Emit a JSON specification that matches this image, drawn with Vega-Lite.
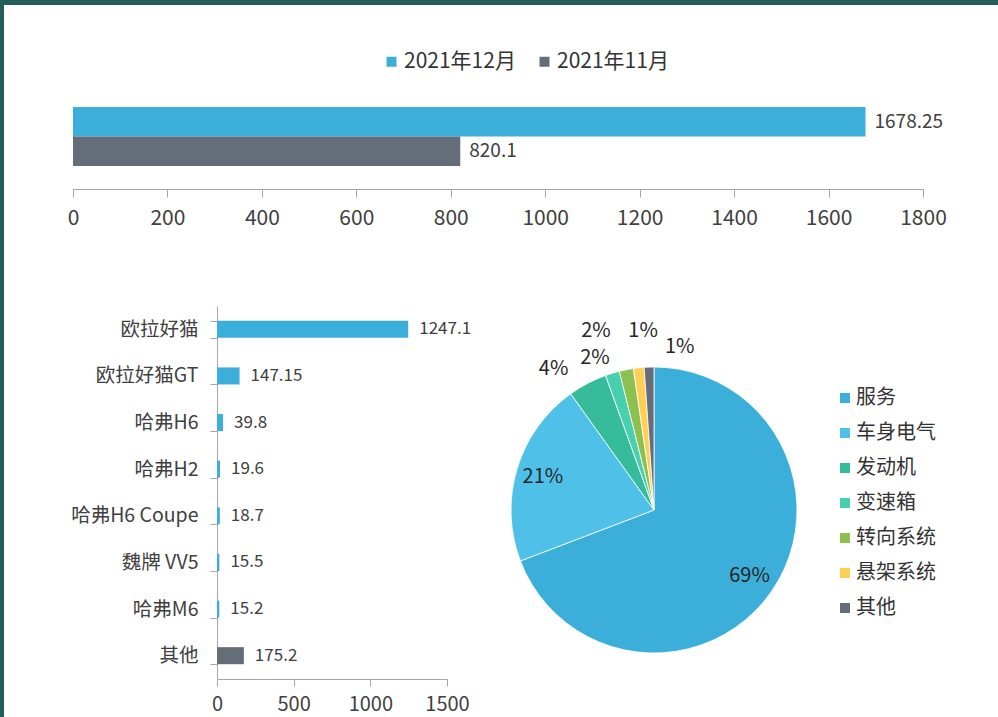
{
  "$schema": "https://vega.github.io/schema/vega-lite/v6.json",
  "padding": 0,
  "background": "white",
  "config": {
    "font": "Noto Sans CJK SC",
    "view": {"stroke": null},
    "axis": {"grid": false, "title": null, "labelFlush": false, "labelFont": "Noto Sans CJK SC", "labelColor": "#404040", "domainColor": "#a6a6a6", "tickColor": "#a6a6a6", "domainWidth": 1, "tickWidth": 1},
    "legend": {"labelFont": "Noto Sans CJK SC", "labelColor": "#333333", "padding": 0},
    "text": {"font": "Noto Sans CJK SC"}
  },
  "datasets": {
    "monthly": [
      {"month": "2021年12月", "value": 1678.25},
      {"month": "2021年11月", "value": 820.1}
    ],
    "models": [
      {"model": "欧拉好猫", "value": 1247.1},
      {"model": "欧拉好猫GT", "value": 147.15},
      {"model": "哈弗H6", "value": 39.8},
      {"model": "哈弗H2", "value": 19.6},
      {"model": "哈弗H6 Coupe", "value": 18.7},
      {"model": "魏牌 VV5", "value": 15.5},
      {"model": "哈弗M6", "value": 15.2},
      {"model": "其他", "value": 175.2}
    ],
    "parts": [
      {"part": "服务", "share": 0.692},
      {"part": "车身电气", "share": 0.209},
      {"part": "发动机", "share": 0.044},
      {"part": "变速箱", "share": 0.016},
      {"part": "转向系统", "share": 0.016},
      {"part": "悬架系统", "share": 0.012},
      {"part": "其他", "share": 0.011}
    ]
  },
  "spacing": 0,
  "resolve": {"scale": {"color": "independent"}, "legend": {"color": "independent"}},
  "hconcat": [
    {
      "width": 4, "height": 717,
      "data": {"values": []},
      "mark": "point",
      "encoding": {},
      "view": {"fill": "#245e5a", "stroke": null}
    },
    {
      "resolve": {"scale": {"color": "independent"}, "legend": {"color": "independent"}},
      "concat": [
        {
          "width": 994, "height": 5,
          "data": {"values": []},
          "mark": "point",
          "encoding": {},
          "view": {"fill": "#245e5a", "stroke": null}
        },
        {
          "spacing": 0,
          "resolve": {"scale": {"color": "independent"}, "legend": {"color": "independent"}},
          "hconcat": [
            {
              "width": 1, "height": 82,
              "data": {"values": []},
              "mark": "point",
              "encoding": {}
            },
            {
              "width": 850, "height": 82,
              "data": {"name": "monthly"},
              "encoding": {
                "y": {"field": "month", "type": "nominal", "sort": ["2021年12月", "2021年11月"],
                      "scale": {"paddingInner": 0, "paddingOuter": 0.39, "align": 0},
                      "axis": {"labels": false, "ticks": false, "domain": false, "minExtent": 68, "maxExtent": 68}},
                "x": {"field": "value", "type": "quantitative", "scale": {"domain": [0, 1800], "nice": false},
                      "axis": {"values": [0, 200, 400, 600, 800, 1000, 1200, 1400, 1600, 1800], "format": "d", "tickSize": 8, "labelFontSize": 21, "labelPadding": 10, "minExtent": 60.5, "maxExtent": 60.5}}
              },
              "layer": [
                {
                  "mark": {"type": "bar"},
                  "encoding": {
                    "color": {"field": "month", "type": "nominal",
                      "scale": {"domain": ["2021年12月", "2021年11月"], "range": ["#3BAFDA", "#656D78"]},
                      "legend": {"orient": "none", "legendX": 308, "legendY": -56, "direction": "horizontal", "title": null,
                        "symbolType": "square", "symbolSize": 100, "symbolStrokeWidth": 0, "labelFontSize": 21, "labelOffset": 2, "columnPadding": 18, "padding": 0}}
                  }
                },
                {
                  "mark": {"type": "text", "align": "left", "dx": 9, "fontSize": 19, "color": "#404040"},
                  "encoding": {"text": {"field": "value", "type": "quantitative"}}
                }
              ]
            }
          ]
        },
        {
          "spacing": -4,
          "resolve": {"scale": {"color": "independent"}, "legend": {"color": "independent"}},
          "hconcat": [
            {
              "width": 5, "height": 373,
              "data": {"values": []},
              "mark": "point",
              "encoding": {}
            },
            {
              "width": 230, "height": 373,
              "data": {"name": "models"},
              "encoding": {
                "y": {"field": "model", "type": "nominal", "sort": null,
                      "scale": {"paddingInner": 0.635, "paddingOuter": 0.3175},
                      "axis": {"tickBand": "extent", "tickSize": 7, "labelFontSize": 19.5, "labelPadding": 12, "minExtent": 212, "maxExtent": 212}},
                "x": {"field": "value", "type": "quantitative", "scale": {"domain": [0, 1500], "nice": false},
                      "axis": {"values": [0, 500, 1000, 1500], "format": "d", "tickSize": 7, "labelFontSize": 20, "labelPadding": 8}}
              },
              "layer": [
                {
                  "mark": {"type": "bar"},
                  "encoding": {"color": {"condition": {"test": "datum.model === '其他'", "value": "#656D78"}, "value": "#3BAFDA"}}
                },
                {
                  "mark": {"type": "text", "align": "left", "dx": 11, "fontSize": 17, "color": "#404040"},
                  "encoding": {"text": {"field": "value", "type": "quantitative"}}
                }
              ]
            },
            {
              "width": 344, "height": 408,
              "data": {"name": "parts"},
              "transform": [{"window": [{"op": "row_number", "as": "rank"}]}],
              "encoding": {
                "theta": {"field": "share", "type": "quantitative", "stack": true},
                "order": {"field": "rank", "type": "quantitative"}
              },
              "layer": [
                {
                  "mark": {"type": "arc", "outerRadius": 143, "stroke": "white", "strokeWidth": 0.8},
                  "encoding": {
                    "color": {"field": "part", "type": "nominal",
                      "scale": {"domain": ["服务", "车身电气", "发动机", "变速箱", "转向系统", "悬架系统", "其他"],
                                "range": ["#3BAFDA", "#4FC1E9", "#37BC9B", "#48CFAD", "#8CC152", "#FFCE54", "#656D78"]},
                      "legend": {"orient": "none", "legendX": 353, "legendY": 82, "direction": "vertical", "title": null,
                        "symbolType": "square", "symbolSize": 100, "symbolStrokeWidth": 0, "labelFontSize": 20, "labelOffset": 1, "rowPadding": 15, "padding": 0}}
                  }
                },
                {
                  "mark": {"type": "text", "radius": 116, "fontSize": 20, "color": "#262626"},
                  "encoding": {"text": {"condition": {"test": "datum.share > 0.1", "field": "share", "type": "quantitative", "format": ".0%"}, "value": ""}}
                },
                {
                  "mark": {"type": "text", "radius": 172.8, "thetaOffset": -0.136, "fontSize": 20, "color": "#262626"},
                  "encoding": {"text": {"condition": {"test": "datum.part === '发动机'", "field": "share", "type": "quantitative", "format": ".0%"}, "value": ""}}
                },
                {
                  "mark": {"type": "text", "radius": 162.6, "thetaOffset": -0.076, "fontSize": 20, "color": "#262626"},
                  "encoding": {"text": {"condition": {"test": "datum.part === '变速箱'", "field": "share", "type": "quantitative", "format": ".0%"}, "value": ""}}
                },
                {
                  "mark": {"type": "text", "radius": 188, "thetaOffset": -0.119, "fontSize": 20, "color": "#262626"},
                  "encoding": {"text": {"condition": {"test": "datum.part === '转向系统'", "field": "share", "type": "quantitative", "format": ".0%"}, "value": ""}}
                },
                {
                  "mark": {"type": "text", "radius": 179.3, "thetaOffset": 0.046, "fontSize": 20, "color": "#262626"},
                  "encoding": {"text": {"condition": {"test": "datum.part === '悬架系统'", "field": "share", "type": "quantitative", "format": ".0%"}, "value": ""}}
                },
                {
                  "mark": {"type": "text", "radius": 165, "thetaOffset": 0.191, "fontSize": 20, "color": "#262626"},
                  "encoding": {"text": {"condition": {"test": "datum.part === '其他'", "field": "share", "type": "quantitative", "format": ".0%"}, "value": ""}}
                }
              ]
            }
          ]
        }
      ],
      "columns": 1,
      "spacing": 46
    }
  ]
}
